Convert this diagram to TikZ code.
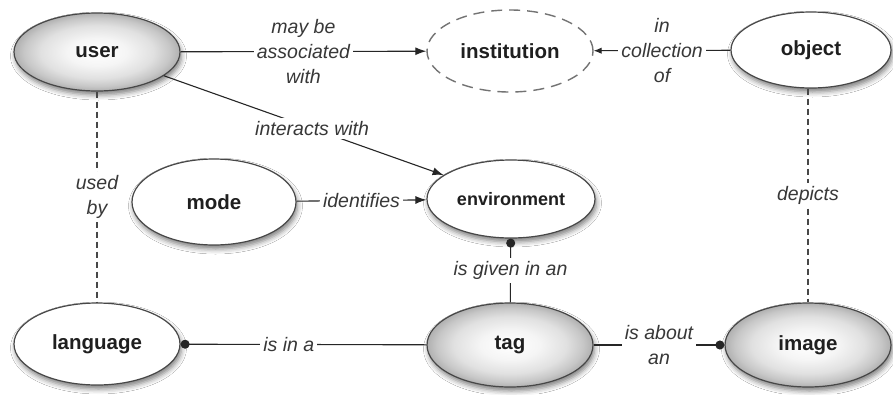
\documentclass[tikz,border=0pt]{standalone}
\usepackage{fontspec}
\setmainfont{Liberation Sans}
\usetikzlibrary{arrows.meta,shapes.geometric,shadows.blur}

% soft grey ball fill for the shaded concepts
\pgfdeclareradialshading{glassball}{\pgfpoint{0bp}{0bp}}{%
  color(0bp)=(white); color(9bp)=(black!4); color(17bp)=(black!12);
  color(22bp)=(black!22); color(25bp)=(black!31); color(50bp)=(black!31)}

\begin{document}
\begin{tikzpicture}[x=1pt,y=-1pt,
  concept/.style={ellipse, draw=black!72, line width=1.2pt,
    minimum width=166pt, minimum height=80pt, inner sep=0pt,
    font=\bfseries\fontsize{20.5}{24}\selectfont, text=black!88},
  softshadow/.style={blur shadow={shadow xshift=1.5pt, shadow yshift=-4pt,
    shadow blur radius=5pt, shadow opacity=50}},
  plainconcept/.style={concept, fill=white, softshadow},
  ballconcept/.style={concept, shading=glassball, softshadow},
  ghostconcept/.style={concept, draw=black!55, line width=1.4pt,
    dash pattern=on 11pt off 7pt},
  rel/.style={font=\itshape\fontsize{19.5}{25}\selectfont, text=black!78,
    fill=white, inner sep=3pt, align=center},
  link/.style={draw=black!85, line width=1.1pt},
  weaklink/.style={draw=black!72, line width=1.1pt, dash pattern=on 6pt off 4pt},
  arrowend/.style={-{Latex[length=11pt,width=8pt]}},
  dotstart/.style={{Circle[length=9pt]}-},
  dotend/.style={-{Circle[length=9pt]}}
]
\useasboundingbox (0,0) rectangle (893,394);
\fill[white] (0,0) rectangle (893,394);

% concepts
\node[ballconcept, minimum height=78pt] (user) at (97,52) {user};
\node[ghostconcept, minimum height=82pt] (institution) at (510,51) {institution};
\node[plainconcept, minimum width=160pt, minimum height=76pt] (object) at (811,50) {object};
\node[plainconcept, minimum width=164pt, minimum height=86pt] (mode) at (214,202) {mode};
\node[plainconcept, minimum width=168pt, minimum height=78pt,
  font=\bfseries\fontsize{18}{21}\selectfont] (environment) at (511,199) {environment};
\node[plainconcept, minimum height=82pt] (language) at (97,344) {language};
\node[ballconcept, minimum height=84pt] (tag) at (510,345) {tag};
\node[ballconcept, minimum height=84pt] (image) at (808,345) {image};

% relations
\draw[link, arrowend] (user) -- node[rel] {may be\\associated\\with} (institution);
\draw[link, -{Latex[length=8pt,width=6.5pt]}] (object) -- node[rel] {in\\collection\\of} (institution);
\draw[link, arrowend] (user) -- node[rel, pos=0.53] {interacts with} (environment);
\draw[link, arrowend] (mode) -- node[rel] {identifies} (environment);
\draw[weaklink] (user) -- node[rel] {used\\by} (language);
\draw[weaklink] (object.south -| image) -- node[rel] {depicts} (image);
\draw[link, dotstart] (environment) -- node[rel] {is given in an} (tag);
\draw[link, dotstart] (language) -- node[rel, pos=0.44] {is in a} (tag);
\draw[link, dotend] (tag) -- node[rel] {is about\\an} (image);
\end{tikzpicture}
\end{document}
